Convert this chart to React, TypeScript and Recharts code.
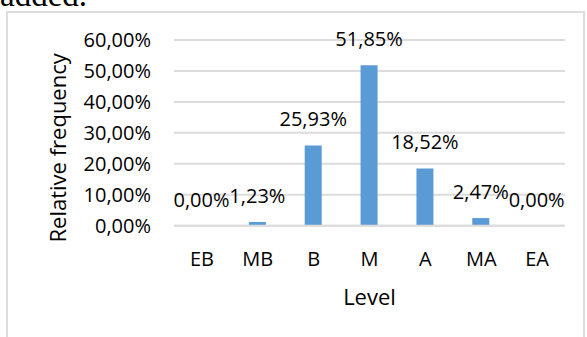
import React from 'react'
import { BarChart, Bar, XAxis, YAxis, CartesianGrid, LabelList, Label } from 'recharts'

// levels on the x axis and their relative frequency
const levels = ['EB', 'MB', 'B', 'M', 'A', 'MA', 'EA']
const frequencies = [0, 0.0123, 0.2593, 0.5185, 0.1852, 0.0247, 0]
const yTicks = [0, 0.1, 0.2, 0.3, 0.4, 0.5, 0.6]

const FONT = '"Open Sans", Lato, sans-serif'

const pct = (v: number) => (v * 100).toFixed(2).replace('.', ',') + '%'

export default function App() {
  const data = levels.map((level, i) => ({ level, value: frequencies[i] }))

  return (
    <div
      style={{
        position: 'fixed',
        left: 0,
        top: 0,
        width: 587,
        height: 337,
        overflow: 'hidden',
        background: '#fff',
      }}
    >
      {/* tail of the paragraph above the figure */}
      <div
        style={{
          position: 'absolute',
          left: 0,
          top: -21,
          fontFamily: '"Liberation Serif", "DejaVu Serif", serif',
          fontSize: 33,
          lineHeight: '33px',
          color: '#000',
        }}
      >
        added.
      </div>

      <div
        style={{
          position: 'absolute',
          left: 6,
          top: 11,
          width: 579,
          height: 340,
          border: '2px solid #DCDCDC',
          boxSizing: 'border-box',
        }}
      />

      <div style={{ position: 'absolute', left: 6, top: 11 }}>
        <BarChart
          width={579}
          height={330}
          data={data}
          margin={{ top: 29, right: 20, left: 0, bottom: 35.3 }}
          barSize={17}
        >
          <CartesianGrid vertical={false} stroke="#DCDCDC" strokeWidth={2} />
          <XAxis
            dataKey="level"
            height={80}
            axisLine={{ stroke: '#DCDCDC', strokeWidth: 2 }}
            tickLine={false}
            tickSize={0}
            tickMargin={26}
            tick={{ fill: '#000', fontSize: 20, fontFamily: FONT }}
            interval={0}
          >
            <Label
              value="Level"
              position="insideBottom"
              offset={1}
              style={{ fill: '#000', fontSize: 22, fontFamily: FONT }}
            />
          </XAxis>
          <YAxis
            width={168}
            domain={[0, 0.6]}
            ticks={yTicks}
            interval={0}
            tickFormatter={pct}
            axisLine={false}
            tickLine={false}
            tickSize={0}
            tickMargin={23}
            tick={{ fill: '#000', fontSize: 20, fontFamily: FONT }}
          >
            <Label
              content={({ viewBox }: any) => {
                const cx = viewBox.x + 51
                const cy = viewBox.y + viewBox.height / 2 + 15
                return (
                  <text
                    x={cx}
                    y={cy}
                    transform={`rotate(-90 ${cx} ${cy})`}
                    textAnchor="middle"
                    dominantBaseline="central"
                    fill="#000"
                    fontSize={22}
                    fontFamily={FONT}
                  >
                    Relative frequency
                  </text>
                )
              }}
            />
          </YAxis>
          <Bar dataKey="value" fill="#5B9BD5" isAnimationActive={false} minPointSize={0.01}>
            <LabelList
              dataKey="value"
              position="top"
              offset={19}
              formatter={(v: any) => pct(Number(v))}
              style={{ fill: '#000', fontSize: 20, fontFamily: FONT }}
            />
          </Bar>
        </BarChart>
      </div>
    </div>
  )
}
